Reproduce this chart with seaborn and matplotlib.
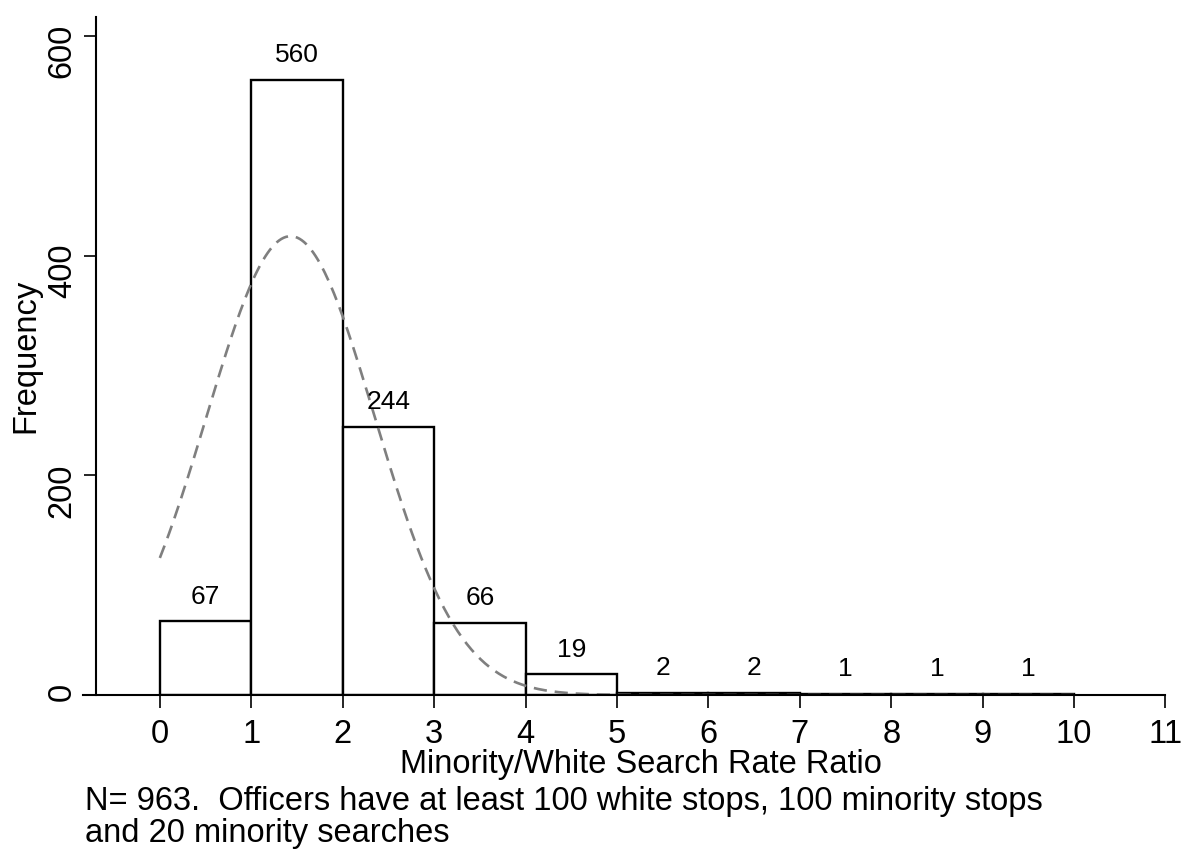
import numpy as np
import pandas as pd
import matplotlib
matplotlib.use("Agg")
import matplotlib.pyplot as plt
import seaborn as sns

# Histogram of officer search-rate ratios
bin_edges = [0, 1, 2, 3, 4, 5, 6, 7, 8, 9, 10]
counts = [67, 560, 244, 66, 19, 2, 2, 1, 1, 1]
n_total = 963

# fitted normal curve
norm_mean = 1.43
norm_sd = 0.92

x_ticks = list(range(0, 12))
y_ticks = [0, 200, 400, 600]

sns.set_theme(style="white")
plt.rcParams['font.family'] = ['Liberation Sans', 'DejaVu Sans']
plt.rcParams.update({"text.color": "black", "axes.labelcolor": "black",
                     "xtick.color": "black", "ytick.color": "black"})

df = pd.DataFrame({"mid": [(a + b) / 2 for a, b in zip(bin_edges[:-1], bin_edges[1:])],
                   "count": counts})

fig = plt.figure(figsize=(11.83, 8.55), dpi=100)
ax = fig.add_axes([0.0702, 0.1871, 0.9150, 0.7929])

sns.histplot(data=df, x="mid", weights="count", bins=bin_edges, ax=ax,
             color="white", edgecolor="black", linewidth=1.7, alpha=1)
ax.bar_label(ax.containers[0], labels=[str(c) for c in counts],
             padding=9, fontsize=19)

# normal density scaled to counts (bin width 1)
xs = np.linspace(0, 10, 400)
ys = n_total / (norm_sd * np.sqrt(2 * np.pi)) * np.exp(-(xs - norm_mean) ** 2 / (2 * norm_sd ** 2))
sns.lineplot(x=xs, y=ys, ax=ax, color="#7f7f7f", linewidth=1.9,
             linestyle=(0, (5, 3)))

ax.set_xlim(-0.84, 11.0)
ax.set_ylim(0, 617)
ax.set_xticks(x_ticks)
ax.set_yticks(y_ticks)
ax.tick_params(axis="both", direction="out", length=9, width=1.2,
               labelsize=23.5, pad=8, bottom=True, left=True)
ax.tick_params(axis="y", labelrotation=90, pad=4)
for lab in ax.get_yticklabels():
    lab.set_va("center")

for s in ["top", "right"]:
    ax.spines[s].set_visible(False)
ax.spines["left"].set_position(("data", -0.7))
for s in ["left", "bottom"]:
    ax.spines[s].set_color("black")
    ax.spines[s].set_linewidth(1.5)

ax.set_xlabel("Minority/White Search Rate Ratio", fontsize=23.5)
ax.set_ylabel("Frequency", fontsize=23.5)
ax.xaxis.set_label_coords(0.5156, -0.103)
ax.yaxis.set_label_coords(-0.053, 0.5)
ax.xaxis.label.set_va("center")
ax.yaxis.label.set_va("center")
ax.grid(False)

fig.text(0.072, 0.0439, "N= 963.  Officers have at least 100 white stops, 100 minority stops\n"
         "and 20 minority searches", fontsize=23.5, ha="left", va="center",
         linespacing=1.05)

fig.savefig("out.png", dpi=100)
